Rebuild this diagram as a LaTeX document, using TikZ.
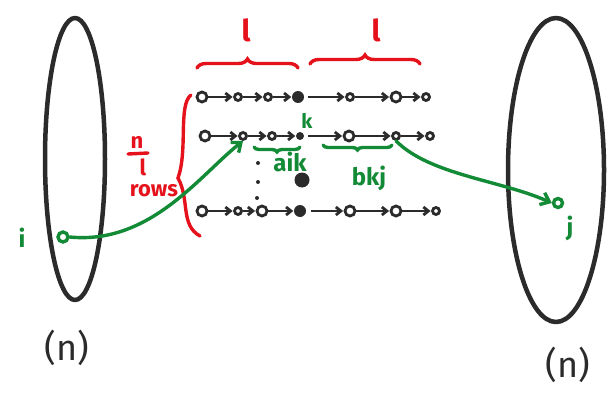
\documentclass[tikz,border=0pt]{standalone}
\usepackage{fontspec}
\setmainfont{Fira Sans}
\usetikzlibrary{arrows.meta,decorations.pathreplacing}
\definecolor{ink}{HTML}{2B2B2B}
\definecolor{redink}{HTML}{E5121C}
\definecolor{greenink}{HTML}{138A36}
\tikzset{
  sk/.style={ink,line width=4.5pt,line cap=round,line join=round},
  opn/.style={circle,draw=ink,line width=2.8pt,fill=white,inner sep=0pt,minimum size=10pt},
  sml/.style={circle,draw=ink,line width=2.8pt,fill=white,inner sep=0pt,minimum size=7pt},
  dot/.style={circle,fill=ink,inner sep=0pt,minimum size=12pt},
  arr/.style={ink,line width=2.8pt,-{Straight Barb[length=5pt,width=8pt]},shorten >=0.5pt},
  rd/.style={redink,line width=3.4pt,line cap=round},
  gr/.style={greenink,line width=3.4pt,line cap=round},
  rtxt/.style={text=redink,font=\bfseries\fontsize{30}{30}\selectfont},
  gtxt/.style={text=greenink,font=\bfseries\fontsize{24}{24}\selectfont},
  ntxt/.style={text=ink,font=\fontsize{36}{36}\selectfont}
}
\begin{document}
\begin{tikzpicture}[x=1pt,y=-1pt]
\useasboundingbox (0,0) rectangle (607,393);
% sets
\draw[sk] (75,159) ellipse [x radius=30,y radius=141];
\draw[sk] (556,170) ellipse [x radius=48,y radius=152];
\node[ntxt] (nl) at (67,348) {(n)};
\node[ntxt] (nr) at (568,365) {(n)};
% row 1
\node[opn] (a1) at (202,97) {};
\node[sml] (a2) at (238,97) {};
\node[sml] (a3) at (268,97) {};
\node[dot] (a4) at (298,97) {};
\node[sml] (a5) at (350,97) {};
\node[opn] (a6) at (396,97) {};
\node[sml] (a7) at (426,97) {};
\draw[arr] (a1) -- (a2);
\draw[arr] (a2) -- (a3);
\draw[arr] (a3) -- (a4);
\draw[arr] ([xshift=4pt]a4.east) -- (a5);
\draw[arr] (a5) -- (a6);
\draw[arr] (a6) -- (a7);
% row 2
\node[opn] (b1) at (205,136) {};
\node[sml] (b2) at (243,136) {};
\node[sml] (b3) at (272,136) {};
\node[dot,minimum size=8pt] (b4) at (300,136) {};
\node[opn] (b5) at (349,136) {};
\node[sml] (b6) at (396,136) {};
\node[sml] (b7) at (430,136) {};
\draw[arr] (b1) -- (b2);
\draw[arr] (b2) -- (b3);
\draw[arr] (b3) -- (b4);
\draw[arr] ([xshift=4pt]b4.east) -- (b5);
\draw[arr] (b5) -- (b6);
\draw[arr] (b6) -- (b7);
% row 3
\node[opn] (c1) at (202,211) {};
\node[sml] (c2) at (238,211) {};
\node[opn] (c3) at (262,211) {};
\node[dot] (c4) at (300,211) {};
\node[opn] (c5) at (350,211) {};
\node[opn] (c6) at (396,211) {};
\node[sml] (c7) at (436,211) {};
\draw[arr] (c1) -- (c2);
\draw[arr] (c2) -- (c3);
\draw[arr] (c3) -- (c4);
\draw[arr] ([xshift=5pt]c4.east) -- (c5);
\draw[arr] (c5) -- (c6);
\draw[arr] (c6) -- (c7);
% dots
\node[dot,minimum size=4pt] (d1) at (258,163) {};
\node[dot,minimum size=4pt] (d2) at (258,182) {};
\node[dot,minimum size=4pt] (d3) at (257,198) {};
\node[dot,minimum size=15pt] (big) at (302,180) {};
% red braces
\draw[rd,decorate,decoration={brace,amplitude=9pt,raise=0pt}] (197,68) -- (298,68);
\draw[rd,decorate,decoration={brace,amplitude=9pt,raise=0pt}] (310,64) -- (420,64);
\node[rtxt] (l1) at (246,30) {l};
\node[rtxt] (l2) at (376,30) {l};
\draw[rd] (191,95) .. controls (178,105) and (188,150) .. (178,178)
  .. controls (190,200) and (180,225) .. (200,236);
\node[rtxt,font=\bfseries\fontsize{22}{22}\selectfont] (nn) at (137,142) {n};
\draw[rd] (128,154) -- (148,153);
\node[rtxt,font=\bfseries\fontsize{22}{22}\selectfont] (ll) at (143,167) {l};
\node[rtxt,font=\bfseries\fontsize{22}{22}\selectfont] (rows) at (154,191) {rows};
% green
\node[gtxt,font=\bfseries\fontsize{20}{20}\selectfont] (k) at (307,121) {k};
\draw[gr,decorate,decoration={brace,amplitude=5pt,mirror}] (254,147) -- (300,147);
\node[gtxt] (aik) at (290,162) {aik};
\draw[gr,decorate,decoration={brace,amplitude=5pt,mirror}] (323,145) -- (392,145);
\node[gtxt] (bkj) at (369,178) {bkj};
\node[circle,draw=greenink,line width=3.4pt,fill=white,inner sep=0pt,minimum size=10pt] (iv) at (63,237) {};
\node[circle,draw=greenink,line width=3.4pt,fill=white,inner sep=0pt,minimum size=9pt] (jv) at (558,203) {};
\node[gtxt] (i) at (22,238) {i};
\node[gtxt] (j) at (570,228) {j};
\draw[gr,-{Straight Barb[length=8pt,width=13pt]}] (iv.east) .. controls (150,245) and (200,175) .. (b2.south);
\draw[gr,-{Straight Barb[length=8pt,width=13pt]}] (b6.south) .. controls (430,175) and (500,180) .. (jv.west);
\end{tikzpicture}
\end{document}
